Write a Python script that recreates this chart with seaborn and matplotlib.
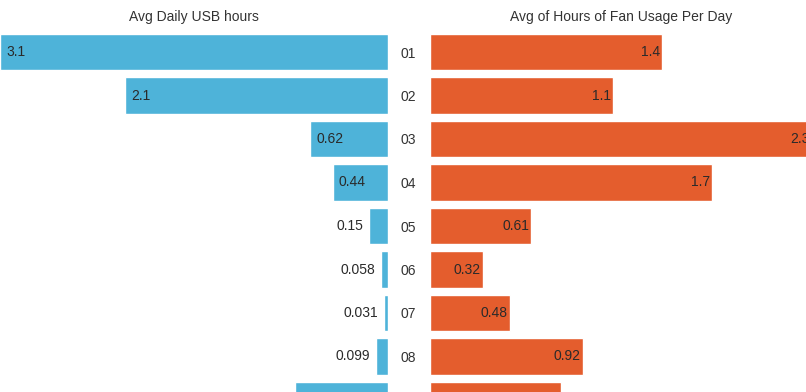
import matplotlib
matplotlib.use("Agg")
import matplotlib.pyplot as plt
import seaborn as sns
import pandas as pd

# Data: average hours per device
devices = ["01", "02", "03", "04", "05", "06", "07", "08", "09"]
usb_hours = [3.1, 2.1, 0.62, 0.44, 0.15, 0.058, 0.031, 0.099, 0.74]
fan_hours = [1.4, 1.1, 2.3, 1.7, 0.61, 0.32, 0.48, 0.92, 0.79]
usb_labels = ["3.1", "2.1", "0.62", "0.44", "0.15", "0.058", "0.031", "0.099", "0.74"]
fan_labels = ["1.4", "1.1", "2.3", "1.7", "0.61", "0.32", "0.48", "0.92", "0.79"]

BLUE = "#4EB3D9"
ORANGE = "#E45D2D"
TEXT = "#2a2a2a"

sns.set_theme(style="white")
plt.rcParams["font.family"] = ["Liberation Sans", "DejaVu Sans"]
plt.rcParams["font.size"] = 10

df = pd.DataFrame({"device": devices, "usb": usb_hours, "fan": fan_hours})

W, H = 806, 392
fig = plt.figure(figsize=(W / 100, H / 100), dpi=100)

top_px = 30.25
row_px = 43.5
first_center_px = 52.0
y_bottom = (H - first_center_px) / row_px
ax_h = (H - top_px) / H

ax_l = fig.add_axes([0 / W, 0, 388 / W, ax_h])
ax_r = fig.add_axes([430 / W, 0, 2.3 * 166 / W, ax_h])

sns.barplot(data=df, x="usb", y="device", orient="h", color=BLUE,
            width=0.83, ax=ax_l, saturation=1)
sns.barplot(data=df, x="fan", y="device", orient="h", color=ORANGE,
            width=0.83, ax=ax_r, saturation=1)

ax_l.set_xlim(3.1, 0)
ax_r.set_xlim(0, 2.3)
for ax in (ax_l, ax_r):
    ax.set_ylim(y_bottom, -0.5)
    ax.set_xlabel("")
    ax.set_ylabel("")
    ax.set_xticks([])
    for s in ax.spines.values():
        s.set_visible(False)
    ax.set_facecolor("none")

ax_l.set_yticks([])
ax_r.tick_params(axis="y", length=0, pad=10, labelsize=10, labelcolor="#333333")

# Left panel value labels: inside the bar for long bars, outside for short ones
for i, (v, lab) in enumerate(zip(usb_hours, usb_labels)):
    if v >= 0.3:
        ax_l.annotate(lab, (v, i), xytext=(4.3, 0), textcoords="offset points",
                      ha="left", va="center", color=TEXT, fontsize=10)
    else:
        ax_l.annotate(lab, (v, i), xytext=(-4.3, 0), textcoords="offset points",
                      ha="right", va="center", color=TEXT, fontsize=10)

# Right panel value labels at the bar end
for i, (v, lab) in enumerate(zip(fan_hours, fan_labels)):
    ax_r.annotate(lab, (v, i), xytext=(-1.5, 0), textcoords="offset points",
                  ha="right", va="center", color=TEXT, fontsize=10)

title_y = (H - top_px + (top_px - 17)) / H
ax_l.text(0.5, 1 + (top_px - 17) / (H - top_px), "Avg Daily USB hours",
          transform=ax_l.transAxes, ha="center", va="center", fontsize=10,
          color="#333333")
ax_r.text(0.5, 1 + (top_px - 17) / (H - top_px), "Avg of Hours of Fan Usage Per Day",
          transform=ax_r.transAxes, ha="center", va="center", fontsize=10,
          color="#333333")

fig.savefig("out.png", dpi=100)
